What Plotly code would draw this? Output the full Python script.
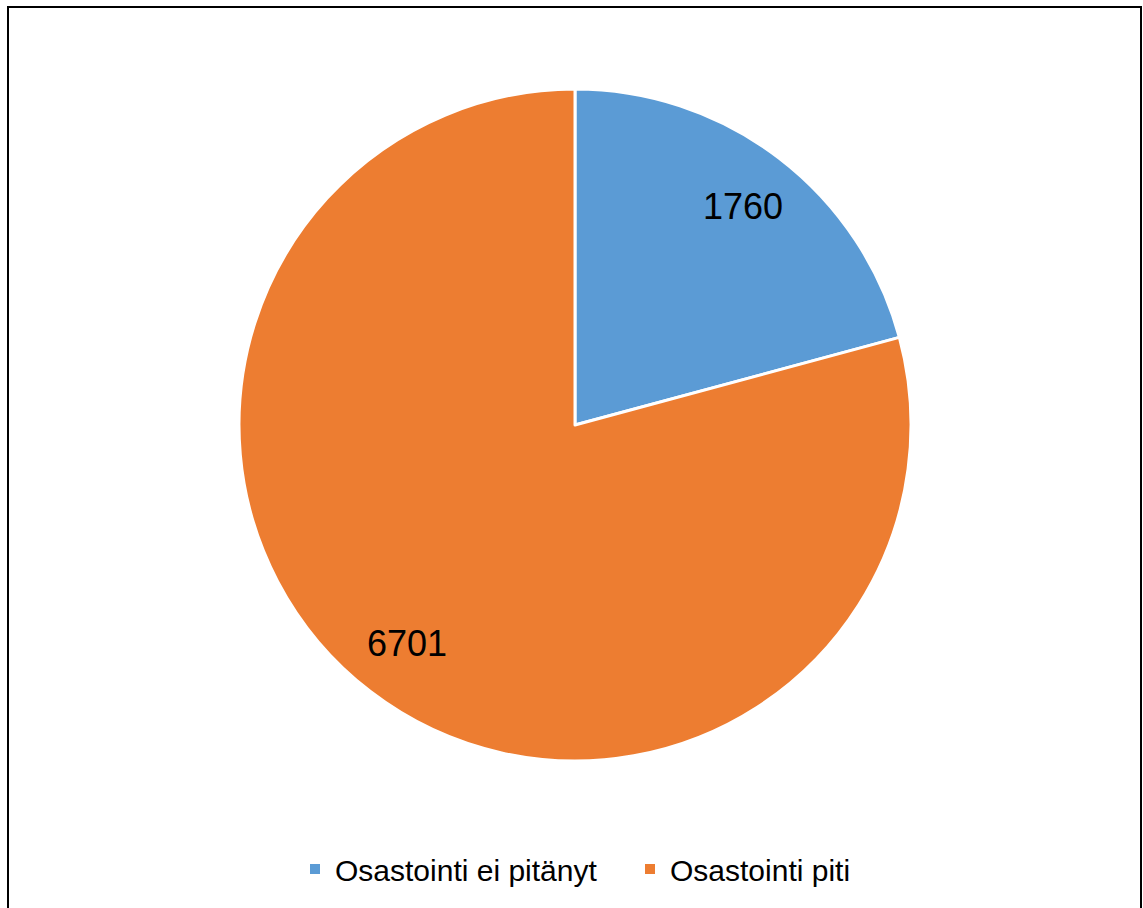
import math
import plotly.graph_objects as go

# Department split counts
labels = ["Osastointi ei pitänyt", "Osastointi piti"]
values = [1760, 6701]
colors = ["#5B9BD5", "#ED7D31"]

W, H = 1143, 908
FONT = "Liberation Sans, Arial, sans-serif"

# Pie geometry in pixels (centre and radius)
CX, CY, R = 575, 425, 336

fig = go.Figure(
    go.Pie(
        labels=labels,
        values=values,
        sort=False,
        direction="clockwise",
        rotation=0,
        marker=dict(colors=colors, line=dict(color="white", width=3)),
        textinfo="none",
        hoverinfo="label+value+percent",
        domain=dict(x=[(CX - R) / W, (CX + R) / W],
                    y=[(H - CY - R) / H, (H - CY + R) / H]),
    )
)

# Value labels placed along each slice's mid-angle
total = sum(values)
annotations = []
start = 0.0
for v in values:
    span = 360.0 * v / total
    mid = math.radians(start + span / 2)
    start += span
    rr = 0.82 * R
    annotations.append(
        dict(
            x=(CX + rr * math.sin(mid)) / W,
            y=(H - CY + rr * math.cos(mid)) / H,
            xref="paper",
            yref="paper",
            text=str(v),
            showarrow=False,
            xanchor="center",
            yanchor="middle",
            font=dict(family=FONT, size=36, color="black"),
        )
    )

fig.update_layout(
    width=W,
    height=H,
    margin=dict(l=0, r=0, t=0, b=0),
    paper_bgcolor="white",
    plot_bgcolor="white",
    showlegend=True,
    legend=dict(
        orientation="h",
        x=295 / W,
        xanchor="left",
        y=39 / H,
        yanchor="middle",
        font=dict(family=FONT, size=30, color="black"),
        itemsizing="constant",
        traceorder="normal",
        entrywidth=290,
        entrywidthmode="pixels",
    ),
    annotations=annotations,
    shapes=[
        dict(
            type="rect",
            xref="paper",
            yref="paper",
            x0=8 / W,
            x1=1141 / W,
            y0=-0.02,
            y1=(H - 7) / H,
            line=dict(color="black", width=2),
            fillcolor="rgba(0,0,0,0)",
            layer="above",
        )
    ],
)

fig.write_html("out.html")
